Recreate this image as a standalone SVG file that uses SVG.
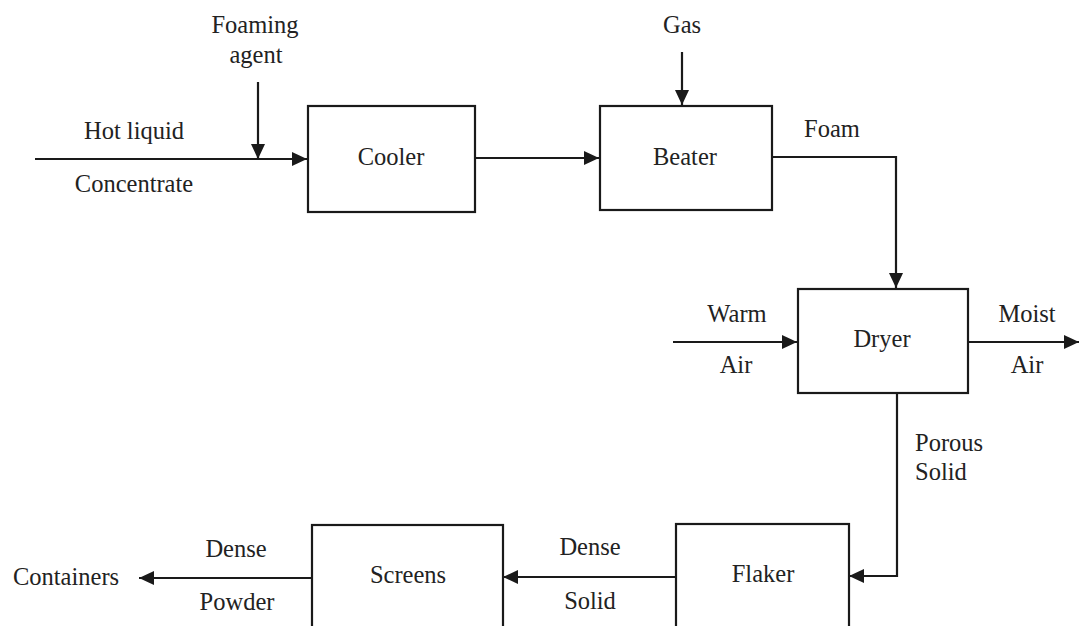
<svg xmlns="http://www.w3.org/2000/svg" width="1079" height="626" viewBox="0 0 1079 626">
<style>
.box{fill:#fff;stroke:#1a1a1a;stroke-width:2.2}
.ln{fill:none;stroke:#1a1a1a;stroke-width:2.2}
text{font-family:"Liberation Serif","Times New Roman",serif;font-size:24.5px;fill:#222;text-anchor:middle}
.l{text-anchor:start}
</style>
<defs>
<marker id="ah" markerUnits="userSpaceOnUse" markerWidth="16" markerHeight="14" refX="15" refY="7" orient="auto">
<path d="M0,0 L15,7 L0,14 Z" fill="#1a1a1a"/>
</marker>
</defs>
<rect width="1079" height="626" fill="#fff"/>
<g id="connectors">
<line class="ln" x1="35" y1="159" x2="307" y2="159" marker-end="url(#ah)"/>
<line class="ln" x1="258" y1="82" x2="258" y2="159" marker-end="url(#ah)"/>
<line class="ln" x1="475" y1="158" x2="599" y2="158" marker-end="url(#ah)"/>
<line class="ln" x1="682" y1="52" x2="682" y2="105" marker-end="url(#ah)"/>
<polyline class="ln" points="772,157 896,157 896,288" marker-end="url(#ah)"/>
<line class="ln" x1="673" y1="342" x2="797" y2="342" marker-end="url(#ah)"/>
<line class="ln" x1="968" y1="342" x2="1079" y2="342" marker-end="url(#ah)"/>
<polyline class="ln" points="897,393 897,576 849,576" marker-end="url(#ah)"/>
<line class="ln" x1="676" y1="577" x2="503" y2="577" marker-end="url(#ah)"/>
<line class="ln" x1="312" y1="578" x2="139" y2="578" marker-end="url(#ah)"/>
</g>
<g id="labels">
<text x="255" y="33">Foaming</text>
<text x="256" y="63">agent</text>
<text x="134" y="139">Hot liquid</text>
<text x="134" y="192">Concentrate</text>
<text x="682" y="33">Gas</text>
<text x="832" y="137">Foam</text>
<text x="737" y="322">Warm</text>
<text x="736" y="373">Air</text>
<text x="1027" y="322">Moist</text>
<text x="1027" y="373">Air</text>
<text class="l" x="915" y="451">Porous</text>
<text class="l" x="915" y="480">Solid</text>
<text x="590" y="555">Dense</text>
<text x="590" y="609">Solid</text>
<text x="236" y="557">Dense</text>
<text x="237" y="610">Powder</text>
<text x="66" y="585">Containers</text>
</g>
<g id="cooler"><rect class="box" x="308" y="106" width="167" height="106"/><text x="391" y="165">Cooler</text></g>
<g id="beater"><rect class="box" x="600" y="106" width="172" height="104"/><text x="685" y="165">Beater</text></g>
<g id="dryer"><rect class="box" x="798" y="289" width="170" height="104"/><text x="882" y="347">Dryer</text></g>
<g id="flaker"><rect class="box" x="676" y="524" width="173" height="120"/><text x="763" y="582">Flaker</text></g>
<g id="screens"><rect class="box" x="312" y="525" width="191" height="120"/><text x="408" y="583">Screens</text></g>
</svg>
